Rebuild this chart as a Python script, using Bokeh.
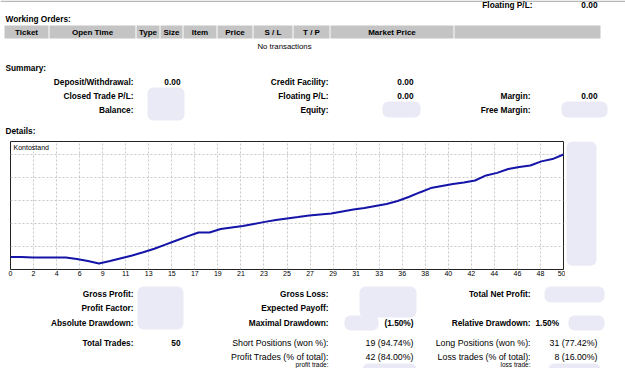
from bokeh.plotting import figure
from bokeh.layouts import column, row
from bokeh.models import Range1d, FixedTicker, Grid, Label, ColumnDataSource
from bokeh.core.properties import value
from bokeh.embed import file_html
from bokeh.resources import INLINE

# ---------------- data ----------------
top_label = "Floating P/L:"
top_value = "0.00"
orders_title = "Working Orders:"
order_columns = ["Ticket", "Open Time", "Type", "Size", "Item", "Price", "S / L", "T / P", "Market Price", ""]
orders_empty = "No transactions"

summary_title = "Summary:"
summary_labels = ["Deposit/Withdrawal:", "Closed Trade P/L:", "Balance:",
                  "Credit Facility:", "Floating P/L:", "Equity:",
                  "Margin:", "Free Margin:"]
summary_values = ["0.00", "", "", "0.00", "0.00", "", "0.00", ""]
details_title = "Details:"

chart_title = "Kontostand"
trade_no = [0, 1, 2, 3, 4, 5, 6, 7, 8, 9, 10, 11, 12, 13, 14, 15, 16, 17, 18, 19, 20,
            21, 22, 23, 24, 25, 26, 27, 28, 29, 30, 31, 32, 33, 34, 35, 36, 37, 38, 39, 40,
            41, 42, 43, 44, 45, 46, 47, 48, 49, 50]
balance = [10054, 10054, 10052, 10052, 10052, 10052, 10046, 10037, 10026, 10037, 10049,
           10061, 10075, 10090, 10108, 10126, 10144, 10161, 10161, 10176, 10183,
           10189, 10198, 10207, 10215, 10222, 10228, 10235, 10239, 10243, 10252,
           10261, 10267, 10276, 10285, 10298, 10315, 10335, 10354, 10363, 10372,
           10378, 10387, 10409, 10420, 10437, 10446, 10452, 10470, 10480, 10500]
tick_labels = ["0", "2", "4", "6", "9", "11", "13", "15", "17", "19", "21", "23", "25",
               "27", "29", "31", "33", "36", "38", "40", "42", "44", "46", "48", "50"]
y_grid_values = [10100, 10200, 10300, 10400, 10500]

stat_labels = ["Gross Profit:", "Profit Factor:", "Absolute Drawdown:", "Total Trades:",
               "Gross Loss:", "Expected Payoff:", "Maximal Drawdown:",
               "Short Positions (won %):", "Profit Trades (% of total):", "profit trade:",
               "Total Net Profit:", "Relative Drawdown:",
               "Long Positions (won %):", "Loss trades (% of total):", "loss trade:"]
stat_values = ["", "", "", "50",
               "", "", "(1.50%)", "19 (94.74%)", "42 (84.00%)", "",
               "", "1.50%", "31 (77.42%)", "8 (16.00%)", ""]

# ---------------- layout / style ----------------
FONT = value("Liberation Sans")
LAV = "#eaeaf6"
W = 625
label_right = [133, 328, 530]
value_right = [180, 413, 597]


def canvas(w, h, x0, y0):
    p = figure(width=w, height=h, x_range=Range1d(x0, x0 + w), y_range=Range1d(y0 + h, y0),
               toolbar_location=None, output_backend="svg", x_axis_location=None,
               y_axis_location=None, min_border=0)
    p.outline_line_color = None
    p.background_fill_color = "white"
    p.border_fill_color = "white"
    for g in p.xgrid + p.ygrid:
        g.visible = False
    return p


def put(p, xs, ys, texts, align="right", bold=True, size="8.3px", color="#000000"):
    src = ColumnDataSource(dict(x=xs, y=ys, t=texts))
    p.text("x", "y", "t", source=src, text_align=align, text_baseline="middle",
           text_font=FONT, text_font_style="bold" if bold else "normal",
           text_font_size=size, text_color=color)


def boxes(p, lrtb):
    p.quad(left=[b[0] for b in lrtb], right=[b[1] for b in lrtb],
           top=[b[2] for b in lrtb], bottom=[b[3] for b in lrtb],
           fill_color=LAV, line_color=None, border_radius=6)


# ---- top part (page y 0..139)
top = canvas(W, 139, 0, 0)
top.quad(left=[0], right=[W], top=[0], bottom=[1.5], fill_color="#b8b8b8", line_color=None)
put(top, [532], [4.5], [top_label])
put(top, [597], [4.5], [top_value])
put(top, [5], [18], [orders_title], align="left")
cells = [(4, 48), (49, 135), (136, 159), (160, 182), (183, 216), (217, 252),
         (253, 292), (293, 329), (330, 453), (454, 600)]
top.quad(left=[c[0] for c in cells], right=[c[1] for c in cells],
         top=[25] * len(cells), bottom=[38] * len(cells), fill_color="#c4c4c4", line_color=None)
put(top, [(c[0] + c[1]) / 2 for c in cells], [31.5] * len(cells), order_columns,
    align="center", size="8px")
put(top, [284], [46], [orders_empty], align="center", bold=False, size="7.8px")
put(top, [5], [67], [summary_title], align="left")
s_col = [0, 0, 0, 1, 1, 1, 2, 2]
s_row = [81, 95, 109, 81, 95, 109, 95, 109]
put(top, [label_right[c] for c in s_col], s_row, summary_labels)
put(top, [value_right[c] for c in s_col], s_row, summary_values)
boxes(top, [(147, 184, 87, 120), (382, 420, 101, 117), (561, 607, 101, 117)])
put(top, [5], [130], [details_title], align="left")

# ---- chart (page y 139..280)
chart = figure(width=565, height=141, x_range=Range1d(0, 50), y_range=Range1d(10000, 10556.5),
               toolbar_location=None, output_backend="svg", y_axis_location=None,
               min_border_left=10, min_border_right=2, min_border_top=2, min_border_bottom=11)
for g in chart.xgrid + chart.ygrid:
    g.visible = False
x_ticks = [i * 50 / (len(tick_labels) - 1) for i in range(len(tick_labels))]
chart.xaxis.ticker = FixedTicker(ticks=x_ticks)
chart.xaxis.major_label_overrides = {t: lab for t, lab in zip(x_ticks, tick_labels)}
chart.xaxis.axis_line_color = None
chart.xaxis.major_tick_line_color = None
chart.xaxis.minor_tick_line_color = None
chart.xaxis.major_tick_out = 0
chart.xaxis.major_label_standoff = 1
chart.xaxis.major_label_text_font_size = "7px"
chart.xaxis.major_label_text_font = "Liberation Sans"
chart.xaxis.major_label_text_color = "#000000"
chart.add_layout(Grid(dimension=0, ticker=FixedTicker(ticks=x_ticks),
                      grid_line_color="#c8c8c8", grid_line_dash="2 2"))
chart.add_layout(Grid(dimension=1, ticker=FixedTicker(ticks=y_grid_values),
                      grid_line_color="#c8c8c8", grid_line_dash="2 2"))
chart.outline_line_color = "#222222"
chart.outline_line_width = 1
chart.line(trade_no, balance, line_color="#1414a8", line_width=2)
chart.add_layout(Label(x=0, y=10556.5, x_offset=3, y_offset=-2, text=chart_title,
                       text_baseline="top", text_font="Liberation Sans",
                       text_font_size="7px", text_color="#000000"))

side = canvas(60, 141, 565, 139)
boxes(side, [(566, 596, 139, 276)])

# ---- bottom (page y 280..368)
bottom = canvas(W, 88, 0, 280)
rows_y = [293, 307, 322, 342, 356, 363.5]
b_col = [0, 0, 0, 0, 1, 1, 1, 1, 1, 1, 2, 2, 2, 2, 2]
b_row = [0, 1, 2, 3, 0, 1, 2, 3, 4, 5, 0, 2, 3, 4, 5]
b_bold = [True, True, True, True, True, True, True, False, False, False, True, True, False, False, False]
boxes(bottom, [(137, 183, 286, 329), (359, 416, 286, 317), (544, 604, 286, 302),
               (344, 378, 315, 330), (568, 604, 315, 330), (362, 416, 363, 380),
               (548, 600, 363, 380)])
for i in range(len(stat_labels)):
    last = b_row[i] == 5
    size = "6.5px" if last else ("8.3px" if b_bold[i] else "8.8px")
    put(bottom, [label_right[b_col[i]]], [rows_y[b_row[i]]], [stat_labels[i]],
        bold=b_bold[i], size=size)
for i in range(len(stat_values)):
    if not stat_values[i]:
        continue
    if stat_labels[i] == "Relative Drawdown:":
        put(bottom, [535], [rows_y[b_row[i]]], [stat_values[i]], align="left")
    else:
        put(bottom, [value_right[b_col[i]]], [rows_y[b_row[i]]], [stat_values[i]],
            bold=b_bold[i], size="8.3px" if b_bold[i] else "8.8px")

layout = column(top, row(chart, side), bottom)
open("out.html", "w").write(file_html(layout, INLINE))
